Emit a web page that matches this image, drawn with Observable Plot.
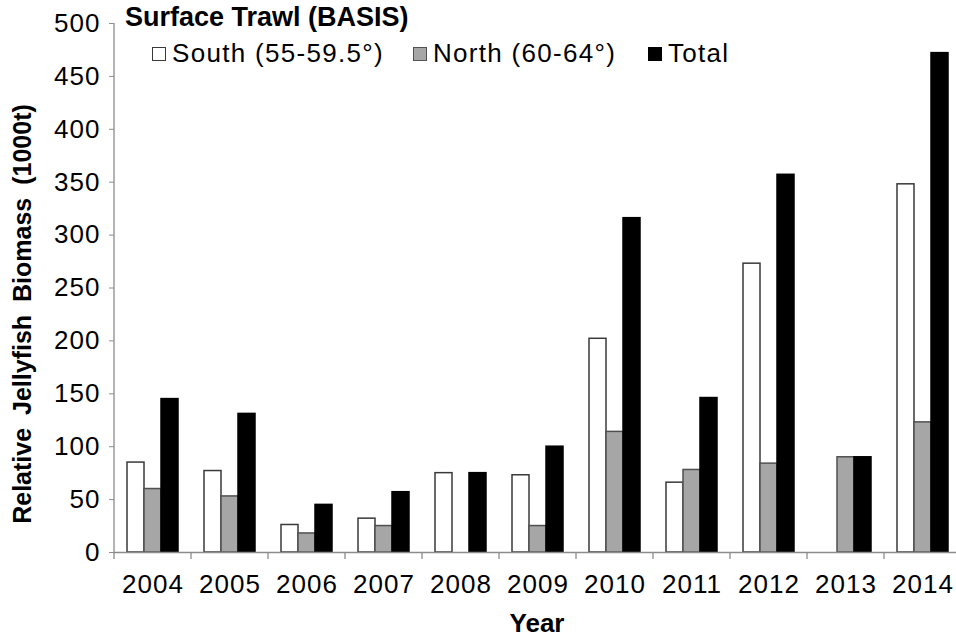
<!DOCTYPE html>
<html><head><meta charset="utf-8">
<script src="https://cdn.jsdelivr.net/npm/d3@7"></script>
<script src="https://cdn.jsdelivr.net/npm/@observablehq/plot@0.6"></script>
<style>
body{margin:0;background:#fff;font-family:"Liberation Sans",Arial,sans-serif;}
#wrap{position:relative;width:956px;height:638px;overflow:hidden}
#title{position:absolute;left:125px;top:2px;font-weight:bold;font-size:27px;color:#000;white-space:nowrap}
.leg{position:absolute;top:38px;font-size:26px;letter-spacing:1.3px;white-space:nowrap;display:flex;align-items:center;color:#000}
.sw{display:inline-block;width:14px;height:14px;border:1px solid #444;margin-right:6px;box-sizing:border-box}
</style></head>
<body>
<div id="wrap">
<div id="chart"></div>
<div id="title">Surface Trawl (BASIS)</div>
<div id="legend"></div>
</div>
<script>
const years = ["2004","2005","2006","2007","2008","2009","2010","2011","2012","2013","2014"];
const south = [85, 77, 26, 32, 75, 73, 202, 66, 273, 0, 348];
const north = [60, 53, 18, 25, 0, 25, 114, 78, 84, 90, 123];
const total = [145, 131, 45, 57, 75, 100, 316, 146, 357, 90, 472];
const seriesNames = ["South (55-59.5°)", "North (60-64°)", "Total"];
const seriesFill = ["#ffffff", "#a6a6a6", "#000000"];
const seriesStroke = ["#3a3a3a", "#505050", "#000000"];
const yTicks = [0, 50, 100, 150, 200, 250, 300, 350, 400, 450, 500];
const yLabel = "Relative Jellyfish Biomass (1000t)";
const xLabel = "Year";

const seriesValues = [south, north, total];
const data = [];
seriesValues.forEach((vals, s) => vals.forEach((v, i) => data.push({year: years[i], series: s, value: v})));

const W = 956, H = 638;
const mL = 114, mT = 23, mB = 86, mR = -5;
const bw = (W - mL - mR) / years.length;
const barW = 17;
const offsets = [-barW, 0, barW];

const marks = [0,1,2].map(s => Plot.barY(data.filter(d => d.series === s && d.value > 0), {
  x: "year", y: "value",
  fill: seriesFill[s], stroke: seriesStroke[s], strokeWidth: 1.5,
  insetLeft: (bw - barW)/2, insetRight: (bw - barW)/2, dx: offsets[s]
}));

const plot = Plot.plot({
  width: W, height: H,
  marginLeft: mL, marginTop: mT, marginBottom: mB, marginRight: mR,
  style: {fontFamily: '"Liberation Sans", Arial, sans-serif', fontSize: "26px", color: "#000", background: "#fff", overflow: "visible", letterSpacing: "1px"},
  x: {domain: years, padding: 0, label: null},
  y: {domain: [0, 500], label: null},
  marks: [
    ...marks,
    Plot.axisY({ticks: yTicks, tickSize: 5, tickPadding: 9, stroke: "#8c8c8c", fontSize: 26, label: null, tickFormat: d => String(d)}),
    Plot.axisX({tickSize: 0, tickPadding: 22, fontSize: 26, label: null}),
    Plot.ruleY([0], {stroke: "#8c8c8c", strokeWidth: 1.3})
  ]
});
document.getElementById("chart").appendChild(plot);

// boundary tick marks at band edges, placed through the x scale
const xs = plot.scale("x");
const svg = d3.select(plot);
const y0 = plot.scale("y").apply(0);
const edges = years.map(y => xs.apply(y)).concat([xs.apply(years[years.length-1]) + xs.bandwidth]);
svg.append("g").selectAll("line").data(edges).join("line")
  .attr("x1", d => d).attr("x2", d => d).attr("y1", y0).attr("y2", y0 + 7)
  .attr("stroke", "#8c8c8c").attr("stroke-width", 1.3);
// y axis line
svg.append("line").attr("x1", mL).attr("x2", mL).attr("y1", plot.scale("y").apply(500)).attr("y2", y0)
  .attr("stroke", "#8c8c8c").attr("stroke-width", 1.3);
// axis titles
svg.append("text").attr("x", 537).attr("y", 632).attr("text-anchor", "middle")
  .attr("font-weight", "bold").attr("font-size", 26).attr("letter-spacing", 0).attr("fill", "#000").text(xLabel);
svg.append("text").attr("transform", `translate(31,314) rotate(-90)`).attr("text-anchor", "middle")
  .attr("font-weight", "bold").attr("font-size", 25).attr("letter-spacing", 0).attr("word-spacing", 6).attr("fill", "#000").text(yLabel);

// legend
const legendLeft = [152, 413, 648];
const leg = document.getElementById("legend");
seriesNames.forEach((n, i) => {
  const it = document.createElement("div");
  it.className = "leg";
  it.style.left = legendLeft[i] + "px";
  const sw = document.createElement("span");
  sw.className = "sw";
  sw.style.background = seriesFill[i];
  sw.style.borderColor = seriesStroke[i];
  it.appendChild(sw);
  it.appendChild(document.createTextNode(n));
  leg.appendChild(it);
});
</script>
</body></html>
